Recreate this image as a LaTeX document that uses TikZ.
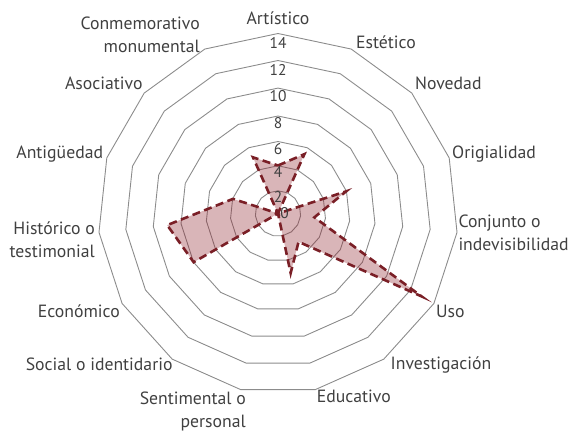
\documentclass[tikz,border=0pt]{standalone}
\usepackage{fontspec}
\setmainfont{PT Sans}
\definecolor{ringgray}{RGB}{140,140,140}
\definecolor{txtgray}{RGB}{64,64,64}
\definecolor{serred}{RGB}{122,31,38}
\definecolor{serfill}{RGB}{140,30,40}
\begin{document}
\begin{tikzpicture}[x=1pt,y=-1pt,
  ring/.style={draw=ringgray,line width=0.9pt},
  series/.style={draw=serred,line width=2.6pt,dash pattern=on 8pt off 4.5pt,
    fill=serfill,fill opacity=0.33,draw opacity=1},
  cat/.style={text=txtgray,font=\fontsize{17.7}{23}\selectfont,inner sep=0pt},
  val/.style={text=txtgray,font=\fontsize{15.5}{18}\selectfont,inner sep=0pt}]
\useasboundingbox (0,0) rectangle (571,433);
\coordinate (O) at (278,213.5);
% grid rings
\begin{scope}[shift={(O)},y=1pt]
  \foreach \r in {22.7,47.7,72,97.5,125.4,153,180}
    \draw[ring] (90:\r) \foreach \k in {1,...,14}{ -- ({90-24*\k}:\r) } -- cycle;
  % data points (radius in px per axis, clockwise from top)
  \foreach \i/\r in {1/48,2/65,3/0,4/71.6,5/36.6,6/165.8,7/35,8/60.9,
                     9/0,10/0,11/97.4,12/111.4,13/47.3,14/0,15/61.5}
    \coordinate (d\i) at ({90-24*(\i-1)}:\r);
\end{scope}
\draw[series] (d1) -- (d2) -- (d3) -- (d4) -- (d5) -- (d6) -- (d7) -- (d8)
  -- (d9) -- (d10) -- (d11) -- (d12) -- (d13) -- (d14) -- (d15) -- cycle;
% axis values
\foreach \v/\y in {14/43,12/69.5,10/96.5,8/123.5,6/149,4/172,2/196.7}
  \node[val] (v\v) at (278,\y) {\v};
\node[val] (v0) at (284.5,213) {0};
% category labels
\node[cat,anchor=mid] (c1) at (278,22) {Artístico};
\node[cat,anchor=mid west] (c2) at (356,46) {Estético};
\node[cat,anchor=mid west] (c3) at (415,87) {Novedad};
\node[cat,anchor=mid west] (c4) at (452,156) {Origialidad};
\node[cat,anchor=west,align=left] (c5) at (458.3,233) {Conjunto o\\indevisibilidad};
\node[cat,anchor=mid west] (c6) at (436,314.5) {Uso};
\node[cat,anchor=mid west] (c7) at (390.5,367) {Investigación};
\node[cat,anchor=mid east] (c8) at (391,400) {Educativo};
\node[cat,anchor=east,align=right] (c9) at (246,411) {Sentimental o\\personal};
\node[cat,anchor=mid east] (c10) at (172.7,367.5) {Social o identidario};
\node[cat,anchor=mid east] (c11) at (120,315) {Económico};
\node[cat,anchor=east,align=right] (c12) at (95,239.5) {Histórico o\\testimonial};
\node[cat,anchor=mid east] (c13) at (103.3,156) {Antigüedad};
\node[cat,anchor=mid east] (c14) at (142.7,87) {Asociativo};
\node[cat,anchor=east,align=right] (c15) at (200,34.5) {Conmemorativo\\monumental};
\end{tikzpicture}
\end{document}
